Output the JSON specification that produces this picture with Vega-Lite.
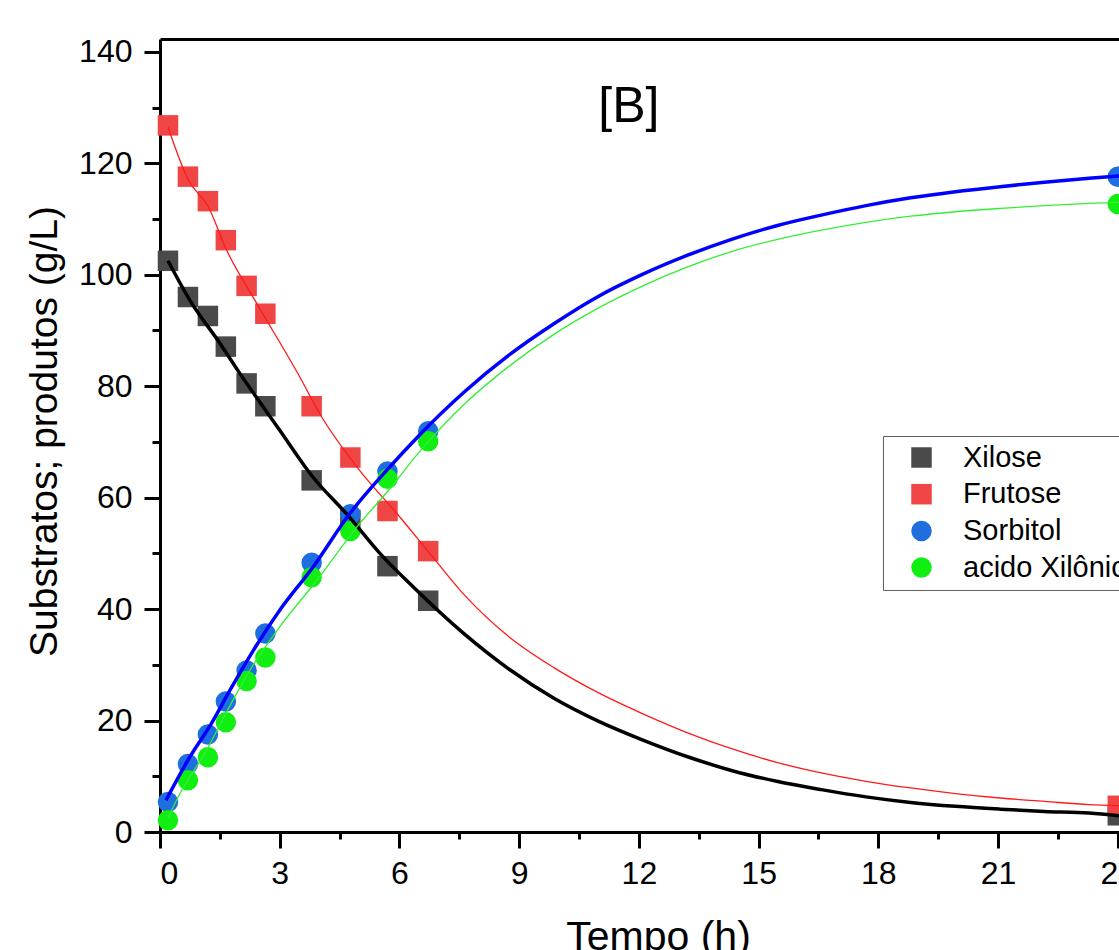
{
  "$schema": "https://vega.github.io/schema/vega-lite/v6.json",
  "width": 959,
  "height": 793,
  "autosize": {"type": "none"},
  "padding": {"left": 160, "top": 39, "right": 0, "bottom": 118},
  "background": "white",
  "config": {
    "view": {"stroke": null},
    "font": "Liberation Sans",
    "axis": {"labelFont": "Liberation Sans", "titleFont": "Liberation Sans", "labelColor": "black", "titleColor": "black", "domainColor": "black", "tickColor": "black", "grid": false, "zindex": 1}
  },
  "datasets": {
    "pts": [
      {"s": "Xilose", "t": 0.2, "v": 102.5},
      {"s": "Xilose", "t": 0.7, "v": 96.0},
      {"s": "Xilose", "t": 1.2, "v": 92.6},
      {"s": "Xilose", "t": 1.65, "v": 87.1},
      {"s": "Xilose", "t": 2.17, "v": 80.5},
      {"s": "Xilose", "t": 2.64, "v": 76.4},
      {"s": "Xilose", "t": 3.8, "v": 63.1},
      {"s": "Xilose", "t": 4.77, "v": 56.0},
      {"s": "Xilose", "t": 5.7, "v": 47.7},
      {"s": "Xilose", "t": 6.72, "v": 41.5},
      {"s": "Xilose", "t": 24, "v": 3.0},
      {"s": "Frutose", "t": 0.2, "v": 126.8},
      {"s": "Frutose", "t": 0.7, "v": 117.6},
      {"s": "Frutose", "t": 1.2, "v": 113.2},
      {"s": "Frutose", "t": 1.65, "v": 106.2},
      {"s": "Frutose", "t": 2.17, "v": 98.0},
      {"s": "Frutose", "t": 2.64, "v": 93.0},
      {"s": "Frutose", "t": 3.8, "v": 76.4},
      {"s": "Frutose", "t": 4.77, "v": 67.2},
      {"s": "Frutose", "t": 5.7, "v": 57.6},
      {"s": "Frutose", "t": 6.72, "v": 50.4},
      {"s": "Frutose", "t": 24, "v": 4.7},
      {"s": "Sorbitol", "t": 0.2, "v": 5.4},
      {"s": "Sorbitol", "t": 0.7, "v": 12.2},
      {"s": "Sorbitol", "t": 1.2, "v": 17.5},
      {"s": "Sorbitol", "t": 1.65, "v": 23.4},
      {"s": "Sorbitol", "t": 2.17, "v": 29.0},
      {"s": "Sorbitol", "t": 2.64, "v": 35.6},
      {"s": "Sorbitol", "t": 3.8, "v": 48.3},
      {"s": "Sorbitol", "t": 4.77, "v": 57.0},
      {"s": "Sorbitol", "t": 5.7, "v": 64.7},
      {"s": "Sorbitol", "t": 6.72, "v": 71.9},
      {"s": "Sorbitol", "t": 24, "v": 117.6},
      {"s": "acido Xilônico", "t": 0.2, "v": 2.1},
      {"s": "acido Xilônico", "t": 0.7, "v": 9.3},
      {"s": "acido Xilônico", "t": 1.2, "v": 13.4},
      {"s": "acido Xilônico", "t": 1.65, "v": 19.7},
      {"s": "acido Xilônico", "t": 2.17, "v": 27.1},
      {"s": "acido Xilônico", "t": 2.64, "v": 31.3},
      {"s": "acido Xilônico", "t": 3.8, "v": 45.7},
      {"s": "acido Xilônico", "t": 4.77, "v": 54.0},
      {"s": "acido Xilônico", "t": 5.7, "v": 63.4},
      {"s": "acido Xilônico", "t": 6.72, "v": 70.1},
      {"s": "acido Xilônico", "t": 24, "v": 112.7}
    ],
    "fit": [
      {"s": "Xilose", "t": 0.2, "v": 102.5},
      {"s": "Xilose", "t": 0.75, "v": 95.4},
      {"s": "Xilose", "t": 1.5, "v": 87.7},
      {"s": "Xilose", "t": 2.0, "v": 82.3},
      {"s": "Xilose", "t": 3.0, "v": 72.1},
      {"s": "Xilose", "t": 3.83, "v": 63.7},
      {"s": "Xilose", "t": 4.71, "v": 56.8},
      {"s": "Xilose", "t": 5.51, "v": 50.0},
      {"s": "Xilose", "t": 6.34, "v": 44.0},
      {"s": "Xilose", "t": 7.63, "v": 35.5},
      {"s": "Xilose", "t": 8.75, "v": 29.2},
      {"s": "Xilose", "t": 9.87, "v": 24.0},
      {"s": "Xilose", "t": 10.98, "v": 19.9},
      {"s": "Xilose", "t": 12.1, "v": 16.5},
      {"s": "Xilose", "t": 13.22, "v": 13.5},
      {"s": "Xilose", "t": 14.34, "v": 11.0},
      {"s": "Xilose", "t": 15.45, "v": 9.1},
      {"s": "Xilose", "t": 16.57, "v": 7.6},
      {"s": "Xilose", "t": 17.69, "v": 6.3},
      {"s": "Xilose", "t": 18.81, "v": 5.3},
      {"s": "Xilose", "t": 19.93, "v": 4.6},
      {"s": "Xilose", "t": 21.05, "v": 4.1},
      {"s": "Xilose", "t": 22.16, "v": 3.7},
      {"s": "Xilose", "t": 23.28, "v": 3.4},
      {"s": "Xilose", "t": 24.03, "v": 2.9},
      {"s": "Frutose", "t": 0.2, "v": 126.5},
      {"s": "Frutose", "t": 0.71, "v": 117.0},
      {"s": "Frutose", "t": 1.21, "v": 112.2},
      {"s": "Frutose", "t": 1.67, "v": 104.4},
      {"s": "Frutose", "t": 2.38, "v": 95.4},
      {"s": "Frutose", "t": 3.5, "v": 81.7},
      {"s": "Frutose", "t": 4.0, "v": 75.1},
      {"s": "Frutose", "t": 5.0, "v": 64.9},
      {"s": "Frutose", "t": 5.93, "v": 57.2},
      {"s": "Frutose", "t": 6.76, "v": 50.0},
      {"s": "Frutose", "t": 7.63, "v": 42.5},
      {"s": "Frutose", "t": 8.75, "v": 35.0},
      {"s": "Frutose", "t": 9.87, "v": 29.5},
      {"s": "Frutose", "t": 10.98, "v": 25.0},
      {"s": "Frutose", "t": 12.1, "v": 21.2},
      {"s": "Frutose", "t": 13.22, "v": 17.8},
      {"s": "Frutose", "t": 14.34, "v": 14.9},
      {"s": "Frutose", "t": 15.45, "v": 12.5},
      {"s": "Frutose", "t": 16.57, "v": 10.6},
      {"s": "Frutose", "t": 17.69, "v": 9.1},
      {"s": "Frutose", "t": 18.81, "v": 7.9},
      {"s": "Frutose", "t": 19.93, "v": 6.9},
      {"s": "Frutose", "t": 21.05, "v": 6.1},
      {"s": "Frutose", "t": 22.16, "v": 5.5},
      {"s": "Frutose", "t": 23.28, "v": 4.9},
      {"s": "Frutose", "t": 24.03, "v": 4.7},
      {"s": "Sorbitol", "t": 0.15, "v": 5.7},
      {"s": "Sorbitol", "t": 0.75, "v": 13.5},
      {"s": "Sorbitol", "t": 1.29, "v": 19.5},
      {"s": "Sorbitol", "t": 1.75, "v": 25.4},
      {"s": "Sorbitol", "t": 2.34, "v": 32.6},
      {"s": "Sorbitol", "t": 3.0, "v": 39.8},
      {"s": "Sorbitol", "t": 3.84, "v": 47.6},
      {"s": "Sorbitol", "t": 4.72, "v": 56.8},
      {"s": "Sorbitol", "t": 5.68, "v": 64.9},
      {"s": "Sorbitol", "t": 6.51, "v": 71.3},
      {"s": "Sorbitol", "t": 7.63, "v": 79.0},
      {"s": "Sorbitol", "t": 8.75, "v": 85.6},
      {"s": "Sorbitol", "t": 9.87, "v": 91.2},
      {"s": "Sorbitol", "t": 10.98, "v": 96.1},
      {"s": "Sorbitol", "t": 12.1, "v": 100.1},
      {"s": "Sorbitol", "t": 13.22, "v": 103.5},
      {"s": "Sorbitol", "t": 14.34, "v": 106.4},
      {"s": "Sorbitol", "t": 15.45, "v": 108.8},
      {"s": "Sorbitol", "t": 16.57, "v": 110.7},
      {"s": "Sorbitol", "t": 17.69, "v": 112.4},
      {"s": "Sorbitol", "t": 18.81, "v": 113.8},
      {"s": "Sorbitol", "t": 19.93, "v": 114.9},
      {"s": "Sorbitol", "t": 21.05, "v": 115.8},
      {"s": "Sorbitol", "t": 22.16, "v": 116.6},
      {"s": "Sorbitol", "t": 23.28, "v": 117.3},
      {"s": "Sorbitol", "t": 24.03, "v": 117.7},
      {"s": "acido Xilônico", "t": 0.2, "v": 2.5},
      {"s": "acido Xilônico", "t": 0.5, "v": 6.9},
      {"s": "acido Xilônico", "t": 1.17, "v": 14.7},
      {"s": "acido Xilônico", "t": 1.71, "v": 22.1},
      {"s": "acido Xilônico", "t": 2.25, "v": 29.0},
      {"s": "acido Xilônico", "t": 3.0, "v": 36.8},
      {"s": "acido Xilônico", "t": 4.0, "v": 45.8},
      {"s": "acido Xilônico", "t": 4.93, "v": 54.7},
      {"s": "acido Xilônico", "t": 5.76, "v": 61.6},
      {"s": "acido Xilônico", "t": 6.51, "v": 68.3},
      {"s": "acido Xilônico", "t": 7.63, "v": 76.8},
      {"s": "acido Xilônico", "t": 8.75, "v": 83.6},
      {"s": "acido Xilônico", "t": 9.87, "v": 89.3},
      {"s": "acido Xilônico", "t": 10.98, "v": 94.0},
      {"s": "acido Xilônico", "t": 12.1, "v": 98.0},
      {"s": "acido Xilônico", "t": 13.22, "v": 101.4},
      {"s": "acido Xilônico", "t": 14.34, "v": 104.2},
      {"s": "acido Xilônico", "t": 15.45, "v": 106.3},
      {"s": "acido Xilônico", "t": 16.57, "v": 108.0},
      {"s": "acido Xilônico", "t": 17.69, "v": 109.4},
      {"s": "acido Xilônico", "t": 18.81, "v": 110.5},
      {"s": "acido Xilônico", "t": 19.93, "v": 111.3},
      {"s": "acido Xilônico", "t": 21.05, "v": 111.9},
      {"s": "acido Xilônico", "t": 22.16, "v": 112.4},
      {"s": "acido Xilônico", "t": 23.28, "v": 112.8},
      {"s": "acido Xilônico", "t": 24.03, "v": 113.0}
    ],
    "label": [{"t": 11.75, "v": 127.4, "txt": "[B]"}]
  },
  "layer": [
    {
      "data": {"name": "pts"},
      "mark": {"type": "point", "filled": true, "opacity": 1, "size": 420, "strokeWidth": 0, "stroke": "transparent"},
      "encoding": {
        "x": {"field": "t", "type": "quantitative", "scale": {"domain": [0, 24.03], "nice": false, "zero": false},
          "axis": {"orient": "bottom", "values": [1.5, 4.5, 7.5, 10.5, 13.5, 16.5, 19.5, 22.5], "tickSize": 7, "tickWidth": 3, "labels": false, "domain": false, "title": null}},
        "y": {"field": "v", "type": "quantitative", "scale": {"domain": [0, 142.3], "nice": false, "zero": false},
          "axis": {"orient": "left", "values": [10, 30, 50, 70, 90, 110, 130], "tickSize": 8, "tickWidth": 3, "labels": false, "domain": false, "title": null}},
        "color": {"field": "s", "type": "nominal",
          "scale": {"domain": ["Xilose", "Frutose", "Sorbitol", "acido Xilônico"], "range": ["#4a4a4a", "#f04545", "#1e6ee0", "#11ee11"]},
          "legend": {"orient": "none", "legendX": 723, "legendY": 397, "title": null, "strokeColor": "#606060", "fillColor": "white", "padding": 7, "symbolOffset": 17, "labelOffset": 27, "rowPadding": 6.7, "symbolSize": 420, "labelFontSize": 29, "labelFont": "Liberation Sans", "labelColor": "black", "symbolStrokeWidth": 0, "symbolStrokeColor": "transparent", "labelLimit": 400}},
        "shape": {"field": "s", "type": "nominal",
          "scale": {"domain": ["Xilose", "Frutose", "Sorbitol", "acido Xilônico"], "range": ["square", "square", "circle", "circle"]}}
      }
    },
    {
      "data": {"name": "fit"},
      "transform": [{"filter": "datum.s === 'Xilose'"}],
      "mark": {"type": "line", "interpolate": "monotone", "color": "#000000", "strokeWidth": 3.5},
      "encoding": {
        "x": {"field": "t", "type": "quantitative",
          "axis": {"orient": "bottom", "values": [0, 3, 6, 9, 12, 15, 18, 21, 24], "tickSize": 16, "tickWidth": 3, "domainWidth": 3, "labelFontSize": 32, "labelPadding": 10, "title": "Tempo (h)", "titleFontSize": 41, "titleFontWeight": "normal", "titleX": 498, "titleY": 117, "titleBaseline": "alphabetic", "titleAlign": "center", "titleAnchor": null}},
        "y": {"field": "v", "type": "quantitative",
          "axis": {"orient": "left", "values": [0, 20, 40, 60, 80, 100, 120, 140], "tickSize": 16, "tickWidth": 3, "domainWidth": 3, "labelFontSize": 32, "labelPadding": 12, "title": "Substratos; produtos (g/L)", "titleFontSize": 39, "titleFontWeight": "normal", "titleX": -104, "titleY": 392, "titleBaseline": "alphabetic", "titleAlign": "center", "titleAngle": 270, "titleAnchor": null}}
      }
    },
    {
      "data": {"name": "fit"},
      "transform": [{"filter": "datum.s === 'Frutose'"}],
      "mark": {"type": "line", "interpolate": "monotone", "color": "#ff1a1a", "strokeWidth": 1.3},
      "encoding": {
        "x": {"field": "t", "type": "quantitative", "axis": null},
        "y": {"field": "v", "type": "quantitative", "axis": null}
      }
    },
    {
      "data": {"name": "fit"},
      "transform": [{"filter": "datum.s === 'Sorbitol'"}],
      "mark": {"type": "line", "interpolate": "monotone", "color": "#0000ff", "strokeWidth": 3.5},
      "encoding": {
        "x": {"field": "t", "type": "quantitative", "axis": null},
        "y": {"field": "v", "type": "quantitative", "axis": null}
      }
    },
    {
      "data": {"name": "fit"},
      "transform": [{"filter": "datum.s === 'acido Xilônico'"}],
      "mark": {"type": "line", "interpolate": "monotone", "color": "#33ee33", "strokeWidth": 1.3},
      "encoding": {
        "x": {"field": "t", "type": "quantitative", "axis": null},
        "y": {"field": "v", "type": "quantitative", "axis": null}
      }
    },
    {
      "data": {"name": "label"},
      "mark": {"type": "text", "fontSize": 50, "font": "Liberation Sans", "align": "center", "baseline": "alphabetic", "color": "black"},
      "encoding": {
        "x": {"field": "t", "type": "quantitative",
          "axis": {"orient": "top", "domain": true, "domainWidth": 3, "ticks": false, "labels": false, "title": null}},
        "y": {"field": "v", "type": "quantitative", "axis": null},
        "text": {"field": "txt"}
      }
    }
  ],
  "resolve": {"axis": {"x": "independent", "y": "independent"}}
}
